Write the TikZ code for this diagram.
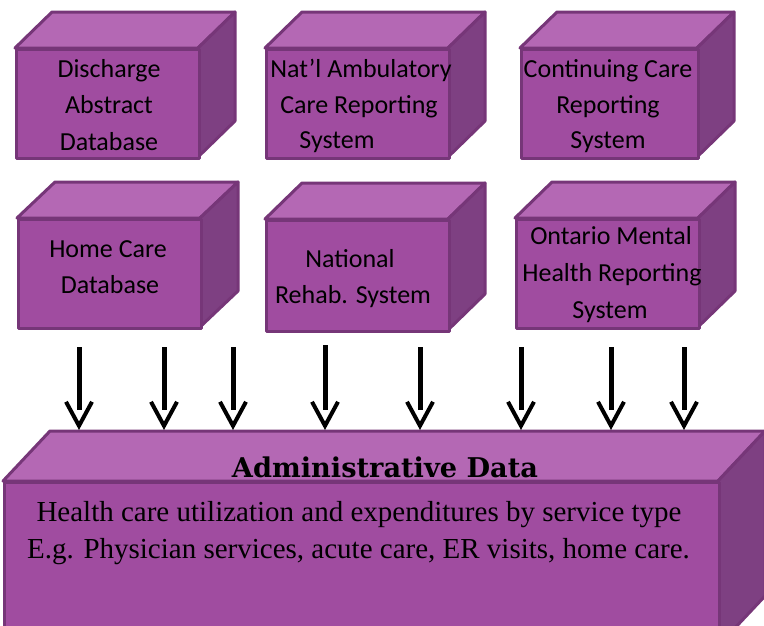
\documentclass[tikz,border=0pt]{standalone}
\usepackage{fontspec}
\setmainfont{Liberation Serif}
\newfontfamily\titlefont{DejaVu Serif}
\newfontfamily\calib{Carlito}
\usetikzlibrary{arrows.meta}
\definecolor{cfront}{RGB}{160,76,160}
\definecolor{ctop}{RGB}{180,104,180}
\definecolor{cside}{RGB}{126,64,130}
\definecolor{cedge}{RGB}{118,54,120}
\tikzset{
  face/.style={draw=cedge, line width=3pt, line join=round},
  frontface/.style={face, fill=cfront, rectangle, inner sep=0pt, anchor=north west},
  boxtxt/.style={font=\calib\fontsize{26}{30}\selectfont, anchor=base, inner sep=0pt},
  bodytxt/.style={font=\fontsize{29}{33}\selectfont, anchor=base, inner sep=0pt},
  titletxt/.style={font=\titlefont\bfseries\fontsize{27.2}{32}\selectfont, anchor=base, inner sep=0pt},
  flow/.style={line width=5pt, -{Straight Barb[length=24pt,width=26pt,line width=4pt]}}
}
% #1 name, #2 x, #3 y (front top-left), #4 width, #5 height, #6 dx, #7 dy
\newcommand\cuboid[7]{%
  \filldraw[face, fill=ctop] (#2,#3) -- ++(#6,-#7) -- ++(#4,0) -- ++(-#6,#7) -- cycle;
  \filldraw[face, fill=cside] (#2+#4,#3) -- ++(#6,-#7) -- ++(0,#5) -- ++(-#6,#7) -- cycle;
  \node[frontface, minimum width=#4pt, minimum height=#5pt] (#1) at (#2,#3) {};
}
\begin{document}
\begin{tikzpicture}[x=1pt,y=-1pt]
\useasboundingbox (0,0) rectangle (764,625);
\clip (0,0) rectangle (764,625);
% top row
\cuboid{dad}{15}{48}{183}{109}{37}{36}
\cuboid{nacrs}{265}{48}{183}{109}{37}{36}
\cuboid{ccrs}{520}{48}{177}{109}{37}{36}
% second row
\cuboid{hcd}{17}{218}{183}{109}{38}{36}
\cuboid{nrs}{265}{219}{183}{111}{37}{36}
\cuboid{omhrs}{515}{218}{183}{109}{37}{36}
% bottom box
\cuboid{adm}{3}{481}{715}{165}{47}{50}
% texts
\node[boxtxt] (t1a) at (109,77) {Discharge};
\node[boxtxt] (t1b) at (109,113) {Abstract};
\node[boxtxt] (t1c) at (109,150) {Database};
\node[boxtxt] (t2a) at (361,77) {Nat’l Ambulatory};
\node[boxtxt] (t2b) at (359,113) {Care Reporting};
\node[boxtxt] (t2c) at (337,148) {System};
\node[boxtxt] (t3a) at (608,77) {Continuing Care};
\node[boxtxt] (t3b) at (608,113) {Reporting};
\node[boxtxt] (t3c) at (608,148) {System};
\node[boxtxt] (t4a) at (108,257) {Home Care};
\node[boxtxt] (t4b) at (110,293) {Database};
\node[boxtxt] (t5a) at (350,267) {National};
\node[boxtxt] (t5b) at (353,303) {Rehab. System};
\node[boxtxt] (t6a) at (611,244) {Ontario Mental};
\node[boxtxt] (t6b) at (612,281) {Health Reporting};
\node[boxtxt] (t6c) at (610,318) {System};
\node[titletxt] (ttl) at (385,477) {Administrative Data};
\node[bodytxt] (l1) at (359,521) {Health care utilization and expenditures by service type};
\node[bodytxt] (l2) at (358.5,558) {E.g. Physician services, acute care, ER visits, home care.};
% arrows
\coordinate (admtop) at (0,430);
\foreach \n/\x/\y in {1/79/347,2/164/347,3/233/347,4/325/345,5/420/347,6/521/347,7/611/347,8/684/347}{
  \coordinate (s\n) at (\x,\y);
  \pgfmathsetmacro\on{410-\y}
  \draw[flow, dash pattern=on \on pt off 60pt] (s\n) -- (s\n |- admtop);
}
\end{tikzpicture}
\end{document}
